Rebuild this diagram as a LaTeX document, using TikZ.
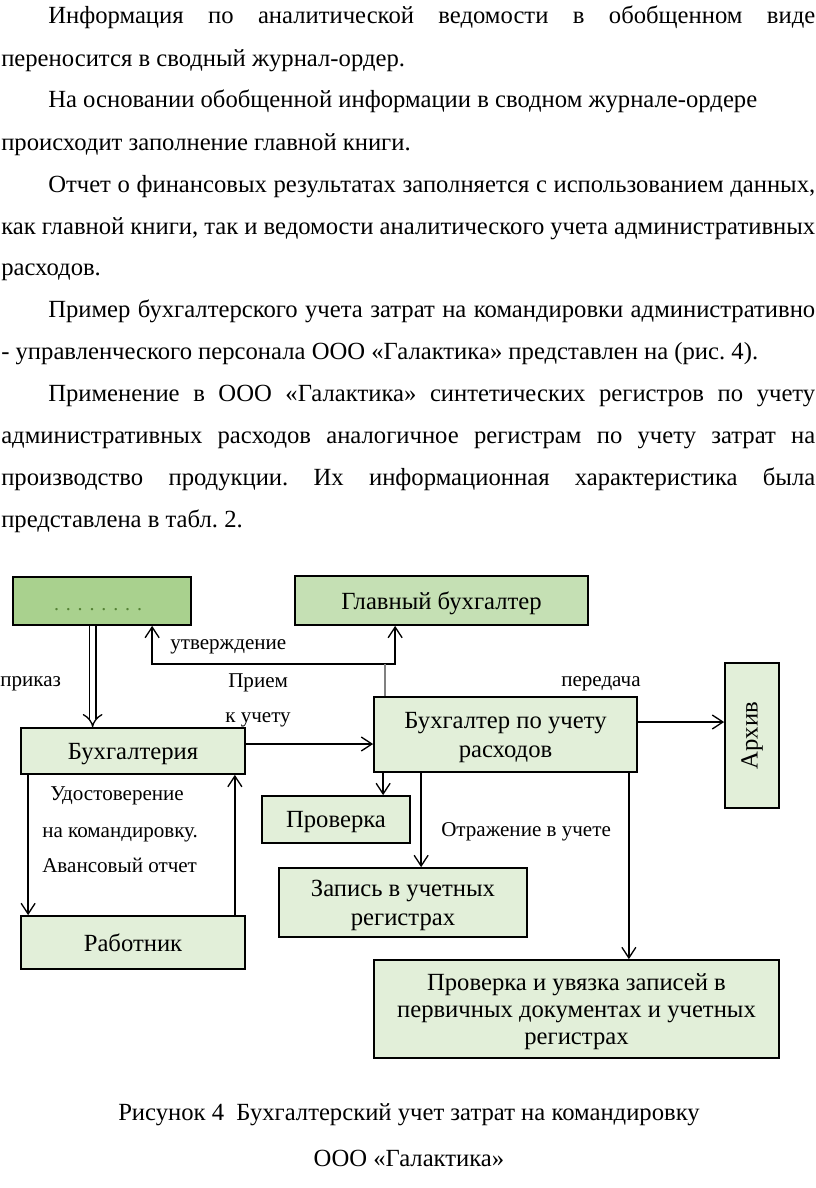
\documentclass[tikz,border=0pt]{standalone}
\usepackage{fontspec}
\setmainfont{Liberation Serif}
\usetikzlibrary{arrows.meta,calc}

\definecolor{grnDark}{RGB}{169,209,142}
\definecolor{grnMid}{RGB}{197,224,180}
\definecolor{grnLight}{RGB}{226,239,217}
\definecolor{grnDots}{RGB}{84,130,53}

% one justified line of the text
\newcommand{\jline}[2]{\makebox[#1][s]{#2}}
\frenchspacing

\begin{document}
\begin{tikzpicture}[x=0.75pt, y=-0.75pt,
	every node/.style={font=\fontsize{18.5pt}{21.75pt}\selectfont},
	>={Straight Barb[length=8pt,width=10.5pt]},
	txt/.style={anchor=base west, inner sep=0pt},
	lbl/.style={anchor=base west, inner sep=0pt, font=\fontsize{15.8pt}{18pt}\selectfont},
	box/.style={draw, line width=1.3pt, fill=grnLight, align=center, inner sep=2pt, text depth=0pt},
	arr/.style={->, line width=1pt}]
	\useasboundingbox (0,0) rectangle (816,1188);

	% text above the figure
	\node[txt] (t1) at (48,24) {\jline{575.25pt}{Информация по аналитической ведомости в обобщенном виде}};
	\node[txt] (t2) at (1,66) {переносится в сводный журнал-ордер.};
	\node[txt] (t3) at (48,108) {На основании обобщенной информации в сводном журнале-ордере};
	\node[txt] (t4) at (1,150) {происходит заполнение главной книги.};
	\node[txt] (t5) at (48,192) {\jline{575.25pt}{Отчет о финансовых результатах заполняется с использованием данных,}};
	\node[txt] (t6) at (1,234) {\jline{610.5pt}{как главной книги, так и ведомости аналитического учета административных}};
	\node[txt] (t7) at (1,275) {расходов.};
	\node[txt] (t8) at (48,317) {\jline{575.25pt}{Пример бухгалтерского учета затрат на командировки  административно}};
	\node[txt] (t9) at (1,359) {- управленческого персонала ООО «Галактика» представлен на (рис. 4).};
	\node[txt] (t10) at (48,401) {\jline{575.25pt}{Применение в ООО «Галактика» синтетических регистров по учету}};
	\node[txt] (t11) at (1,443) {\jline{610.5pt}{административных расходов аналогичное регистрам по учету затрат на}};
	\node[txt] (t12) at (1,485) {\jline{610.5pt}{производство продукции. Их информационная характеристика была}};
	\node[txt] (t13) at (1,527) {представлена в табл. 2.};

	% boxes
	\node[box, fill=grnDark, minimum width=133.5pt, minimum height=36pt, text=grnDots, text height=13.5pt, font=\fontsize{15pt}{21pt}\selectfont] (ruk) at (102,601) {\makebox[66pt][s]{. . . . . . . .}\hspace*{6pt}};
	\node[box, fill=grnMid, minimum width=219.75pt, minimum height=36.75pt] (glav) at (441.5,600.5) {Главный бухгалтер};
	\node[box, minimum width=168pt, minimum height=34.5pt] (buh) at (133,751) {Бухгалтерия};
	\node[box, minimum width=197.25pt, minimum height=56.25pt] (bpu) at (505.5,734.5) {Бухгалтер по учету\\расходов};
	\node[box, minimum width=40.5pt, minimum height=108.75pt] (arh) at (752,735.5) {\rotatebox{90}{Архив}};
	\node[box, minimum width=111pt, minimum height=35.25pt] (prov) at (336,819.5) {Проверка};
	\node[box, minimum width=186pt, minimum height=51.75pt] (zap) at (403,902.5) {Запись в учетных\\регистрах};
	\node[box, minimum width=168pt, minimum height=39.75pt] (rab) at (133,942.5) {Работник};
	\node[box, minimum width=303.75pt, minimum height=73.5pt, font=\fontsize{18.5pt}{20.5pt}\selectfont] (uvz) at (576.5,1009) {Проверка и увязка записей в\\первичных документах и учетных\\регистрах};

	% labels
	\node[lbl] (lUtv) at (170,649) {утверждение};
	\node[lbl] (lPrik) at (0,686) {приказ};
	\node[lbl] (lPri) at (228,687) {Прием};
	\node[lbl] (lKu) at (225,722) {к учету};
	\node[lbl] (lPer) at (561,686) {передача};
	\node[lbl] (lUd) at (50,800) {Удостоверение};
	\node[lbl] (lNa) at (42,837) {на командировку.};
	\node[lbl] (lAv) at (42,872) {Авансовый отчет};
	\node[lbl] (lOtr) at (441,836) {Отражение в учете};

	% approval
	\coordinate (ut1) at ($(ruk.south west)+(140,0)$);
	\coordinate (ut2) at ($(glav.south west)+(101,0)$);
	\coordinate (tie) at ($(ut1)+(0,38)$);
	\draw[arr, <->] (ut1) -- (tie) -| (ut2);
	\coordinate (ut3) at ($(bpu.north west)+(12,0)$);
	\draw[gray, line width=1pt] (ut3) -- (ut3 |- tie);

	% order
	\coordinate (pr) at ($(ruk.south west)+(80.5,0)$);
	\draw[line width=1pt, double distance=4.2pt, -{Implies}] (pr) -- (pr |- buh.north);

	% to the accountant and the archive
	\coordinate (a1) at ($(buh.east)+(0,-7)$);
	\draw[arr] (a1) -- (a1 -| bpu.west);
	\coordinate (a2) at ($(bpu.east)+(0,-12.5)$);
	\draw[arr] (a2) -- (a2 -| arh.west);

	% worker
	\coordinate (w1) at ($(buh.south west)+(8,0)$);
	\draw[arr] (w1) -- (w1 |- rab.north);
	\coordinate (w2) at ($(rab.north east)+(-11,0)$);
	\draw[arr] (w2) -- (w2 |- buh.south);

	% checks and records
	\coordinate (d1) at ($(bpu.south west)+(10,0)$);
	\draw[arr] (d1) -- (d1 |- prov.north);
	\coordinate (d2) at ($(bpu.south west)+(48,0)$);
	\draw[arr] (d2) -- (d2 |- zap.north);
	\coordinate (d3) at ($(bpu.south east)+(-9,0)$);
	\draw[arr] (d3) -- (d3 |- uvz.north);

	% caption
	\node[anchor=base] (cap1) at (409,1120) {Рисунок 4\ \ Бухгалтерский учет затрат на командировку};
	\node[anchor=base] (cap2) at (409,1166) {ООО «Галактика»};
\end{tikzpicture}
\end{document}
